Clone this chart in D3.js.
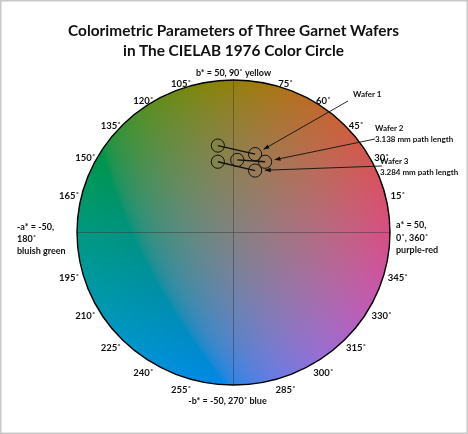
<!DOCTYPE html>
<html>
<head>
<meta charset="utf-8">
<script src="https://cdn.jsdelivr.net/npm/d3@7"></script>
<style>
  body { margin: 0; background: #fff; }
  #wrap { position: relative; width: 468px; height: 434px; }
  #wrap canvas, #wrap svg { position: absolute; left: 0; top: 0; }
  text { font-family: Lato, "Open Sans", sans-serif; font-weight: 700; fill: #111; }
</style>
</head>
<body>
<div id="wrap"></div>
<script>
  // chart data
  var titleLines = ["Colorimetric Parameters of Three Garnet Wafers", "in The CIELAB 1976 Color Circle"];
  var hueTicks = [15, 30, 45, 60, 75, 105, 120, 135, 150, 165, 195, 210, 225, 240, 255, 285, 300, 315, 330, 345];
  var waferNames = ["Wafer 1", "Wafer 2", "Wafer 3"];
  var waferNotes = ["", "3.138 mm path length", "3.284 mm path length"];
  // a*, b* of the two measured points of each wafer
  var startA = [-5.0, 1.2, -5.0];
  var startB = [28.5, 23.8, 23.2];
  var endA = [6.9, 10.1, 6.9];
  var endB = [25.7, 23.2, 20.3];

  var W = 468, H = 434;
  var L = 54, chromaMax = 58;

  var x = d3.scaleLinear().domain([-50, 50]).range([77, 390]);
  var y = d3.scaleLinear().domain([-50, 50]).range([385, 80]);
  var cx = x(0), cy = y(0);

  var wrap = d3.select("#wrap");

  // colour field of the a*b* plane
  var canvas = wrap.append("canvas").attr("width", W).attr("height", H).node();
  var ctx = canvas.getContext("2d");
  var img = ctx.createImageData(W, H);
  for (var py = 0; py < H; py++) {
    for (var px = 0; px < W; px++) {
      var i = (py * W + px) * 4;
      var a = x.invert(px + 0.5), b = y.invert(py + 0.5);
      if (a * a + b * b > 50 * 50) { img.data[i + 3] = 0; continue; }
      var c = d3.rgb(d3.lab(L, a * chromaMax / 50, b * chromaMax / 50));
      img.data[i] = Math.max(0, Math.min(255, c.r));
      img.data[i + 1] = Math.max(0, Math.min(255, c.g));
      img.data[i + 2] = Math.max(0, Math.min(255, c.b));
      img.data[i + 3] = 255;
    }
  }
  ctx.putImageData(img, 0, 0);

  var svg = wrap.append("svg").attr("width", W).attr("height", H);

  svg.append("rect")
      .attr("x", 0.75).attr("y", 0.75)
      .attr("width", W - 1.5).attr("height", H - 1.5)
      .style("fill", "none").style("stroke", "#c8c8c8").style("stroke-width", 1.5);

  // title
  svg.append("g").selectAll("text")
    .data(titleLines)
    .enter().append("text")
      .attr("x", cx)
      .attr("y", function(d, i) { return 35.5 + i * 20.5; })
      .attr("text-anchor", "middle")
      .style("font-size", "15.4px")
      .text(function(d) { return d; });

  // axis lines through the centre
  svg.append("line")
      .attr("x1", x(-50)).attr("x2", x(50)).attr("y1", cy).attr("y2", cy)
      .style("stroke", "rgba(50,50,50,0.45)").style("stroke-width", 1);
  svg.append("line")
      .attr("x1", cx).attr("x2", cx).attr("y1", y(50)).attr("y2", y(-50))
      .style("stroke", "rgba(50,50,50,0.45)").style("stroke-width", 1);

  // outline
  svg.append("ellipse")
      .attr("cx", cx).attr("cy", cy)
      .attr("rx", x(50) - cx).attr("ry", cy - y(50))
      .style("fill", "none").style("stroke", "#000").style("stroke-width", 1.4);

  // hue angle labels, nudged toward the horizontal axis like the original
  function labelPos(d) {
    var t = d * Math.PI / 180;
    var shift = 4 * Math.sign(Math.sin(2 * t)) * Math.abs(Math.sin(t));
    var t2 = (d - shift) * Math.PI / 180;
    var dist = 161 + 9 * Math.cos(t) * Math.cos(t);
    return [cx + dist * Math.cos(t2), cy - dist * Math.sin(t2) + 4];
  }
  svg.append("g").selectAll("text")
    .data(hueTicks)
    .enter().append("text")
      .attr("x", function(d) { return labelPos(d)[0]; })
      .attr("y", function(d) { return labelPos(d)[1] + 3.5; })
      .attr("text-anchor", "middle")
      .style("font-size", "9.5px")
      .text(function(d) { return d + "˚"; });

  // axis end labels
  svg.append("text")
      .attr("x", cx).attr("y", y(50) - 4)
      .attr("text-anchor", "middle").style("font-size", "9px")
      .text("b* = 50, 90˚ yellow");
  svg.append("text")
      .attr("x", cx - 6).attr("y", y(-50) + 19)
      .attr("text-anchor", "middle").style("font-size", "9px")
      .text("-b* = -50, 270˚ blue");
  svg.append("g").selectAll("text")
    .data(["-a* = -50,", "180˚", "bluish green"])
    .enter().append("text")
      .attr("x", 17).attr("y", function(d, i) { return cy - 2.5 + i * 12; })
      .style("font-size", "9px")
      .text(function(d) { return d; });
  svg.append("g").selectAll("text")
    .data(["a* = 50,", "0˚, 360˚", "purple-red"])
    .enter().append("text")
      .attr("x", x(50) + 6).attr("y", function(d, i) { return cy - 4.5 + i * 12.5; })
      .style("font-size", "9px")
      .text(function(d) { return d; });

  // wafer measurements
  var wafers = waferNames.map(function(n, i) {
    return { name: n, note: waferNotes[i], a0: startA[i], b0: startB[i], a1: endA[i], b1: endB[i] };
  });

  var wg = svg.append("g");
  wg.selectAll(".pair")
    .data(wafers)
    .enter().append("line")
      .attr("class", "pair")
      .attr("x1", function(d) { return x(d.a0); }).attr("y1", function(d) { return y(d.b0); })
      .attr("x2", function(d) { return x(d.a1); }).attr("y2", function(d) { return y(d.b1); })
      .style("stroke", "#111").style("stroke-width", 1.4);
  var pts = [];
  wafers.forEach(function(d) { pts.push([d.a0, d.b0]); pts.push([d.a1, d.b1]); });
  wg.selectAll(".pt")
    .data(pts)
    .enter().append("circle")
      .attr("class", "pt")
      .attr("cx", function(d) { return x(d[0]); }).attr("cy", function(d) { return y(d[1]); })
      .attr("r", 6.6)
      .style("fill", "none").style("stroke", "#111").style("stroke-width", 1);

  // callouts
  svg.append("defs").append("marker")
      .attr("id", "arr").attr("viewBox", "0 0 10 10")
      .attr("refX", 9).attr("refY", 5)
      .attr("markerWidth", 7).attr("markerHeight", 7)
      .attr("orient", "auto")
    .append("path").attr("d", "M0,1.5 L10,5 L0,8.5 Z").style("fill", "#111");

  var calloutText = [[353, 97], [375, 131], [380, 164]];
  var lineFrom = [[348, 101], [375, 139], [382, 166]];

  wafers.forEach(function(d, i) {
    var tx = x(d.a1), ty = y(d.b1);
    var dx = lineFrom[i][0] - tx, dy = lineFrom[i][1] - ty;
    var len = Math.sqrt(dx * dx + dy * dy);
    svg.append("line")
        .attr("x1", lineFrom[i][0]).attr("y1", lineFrom[i][1])
        .attr("x2", tx + dx / len * 10).attr("y2", ty + dy / len * 10)
        .attr("marker-end", "url(#arr)")
        .style("stroke", "#111").style("stroke-width", 0.9);
    svg.append("text")
        .attr("x", calloutText[i][0]).attr("y", calloutText[i][1])
        .style("font-size", "8px")
        .text(d.name);
    if (d.note) {
      svg.append("text")
          .attr("x", calloutText[i][0]).attr("y", calloutText[i][1] + 11)
          .style("font-size", "8px")
          .text(d.note);
    }
  });
</script>
</body>
</html>
